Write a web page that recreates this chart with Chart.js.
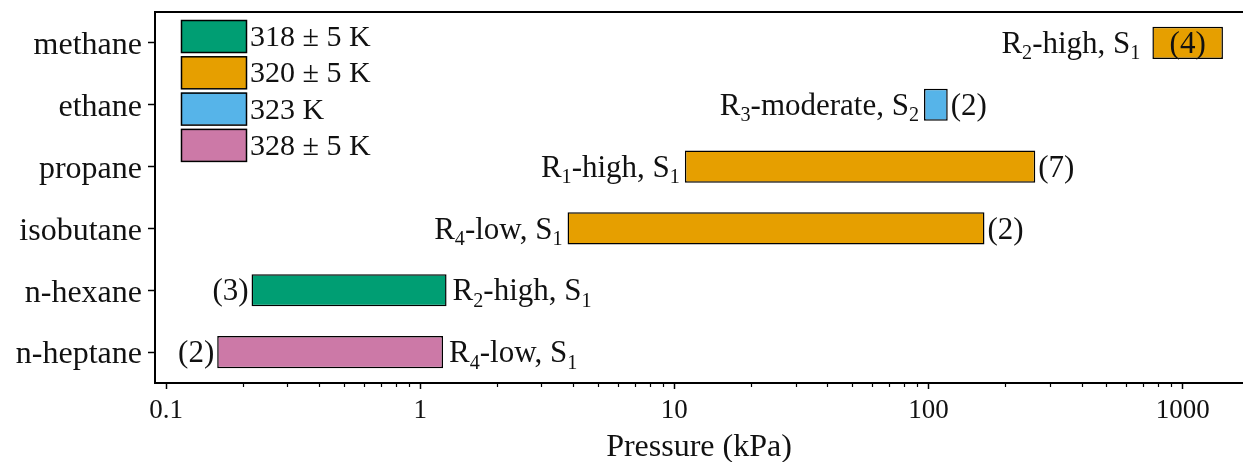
<!DOCTYPE html>
<html>
<head>
<meta charset="utf-8">
<script src="https://cdn.jsdelivr.net/npm/chart.js@4.4.1/dist/chart.umd.min.js"></script>
<style>
  html, body { margin: 0; padding: 0; background: #fff; }
  #chart { display: block; }
</style>
</head>
<body>
<canvas id="chart" width="1243" height="462"></canvas>
<script>
// data
const species = ['methane', 'ethane', 'propane', 'isobutane', 'n-hexane', 'n-heptane'];
const pLow  = [760, 96, 11, 3.8, 0.217, 0.159];     // kPa
const pHigh = [1440, 119, 263, 166, 1.27, 1.23];    // kPa
const tempIdx = [1, 2, 1, 1, 0, 3];
const temps = ['318 ± 5 K', '320 ± 5 K', '323 K', '328 ± 5 K'];
const tempColors = ['#009E73', '#E69F00', '#56B4E9', '#CC79A7'];
const regimes = ['R_2-high, S_1', 'R_3-moderate, S_2', 'R_1-high, S_1', 'R_4-low, S_1', 'R_2-high, S_1', 'R_4-low, S_1'];
const refCounts = ['(4)', '(2)', '(7)', '(2)', '(3)', '(2)'];
const decadeTicks = [0.1, 1, 10, 100, 1000];

const SERIF = '"Liberation Serif", "Times New Roman", serif';

// text with _x subscripts
function parts(str) {
  const out = [];
  const re = /_(\w)/g;
  let last = 0, m;
  while ((m = re.exec(str))) {
    if (m.index > last) out.push({ t: str.slice(last, m.index), sub: false });
    out.push({ t: m[1], sub: true });
    last = re.lastIndex;
  }
  if (last < str.length) out.push({ t: str.slice(last), sub: false });
  return out;
}
function richWidth(ctx, str, size) {
  let w = 0;
  parts(str).forEach(p => {
    ctx.font = (p.sub ? size * 0.65 : size) + 'px ' + SERIF;
    w += ctx.measureText(p.t).width;
  });
  return w;
}
function richText(ctx, str, x, y, size) {
  let cx = x;
  ctx.textAlign = 'left';
  ctx.textBaseline = 'alphabetic';
  parts(str).forEach(p => {
    const s = p.sub ? size * 0.65 : size;
    ctx.font = s + 'px ' + SERIF;
    ctx.fillText(p.t, cx, p.sub ? y + size * 0.2 : y);
    cx += ctx.measureText(p.t).width;
  });
}

const annotations = {
  id: 'annotations',
  afterDatasetsDraw(chart) {
    const ctx = chart.ctx;
    const x = chart.scales.x, y = chart.scales.y;
    const size = 31;
    ctx.save();
    ctx.fillStyle = '#111';
    species.forEach((s, i) => {
      const x0 = x.getPixelForValue(pLow[i]);
      const x1 = x.getPixelForValue(pHigh[i]);
      const yc = y.getPixelForValue(i);
      const base = yc + size * 0.33;
      const rw = richWidth(ctx, regimes[i], size);
      ctx.font = size + 'px ' + SERIF;
      const cw = ctx.measureText(refCounts[i]).width;
      if (i < 4) {
        richText(ctx, regimes[i], x0 - (i === 0 ? 12 : 5) - rw, base, size);
        if (i === 0) {
          richText(ctx, refCounts[i], (x0 + x1) / 2 - cw / 2, base, size);
        } else {
          richText(ctx, refCounts[i], x1 + 3, base, size);
        }
      } else {
        richText(ctx, refCounts[i], x0 - 3 - cw, base, size);
        richText(ctx, regimes[i], x1 + 6, base, size);
      }
    });
    ctx.restore();
  },
  afterDraw(chart) {
    const ctx = chart.ctx;
    const a = chart.chartArea;
    const x = chart.scales.x;
    ctx.save();
    // top frame line
    ctx.strokeStyle = '#000';
    ctx.lineWidth = 2;
    ctx.beginPath();
    ctx.moveTo(a.left - 1, a.top);
    ctx.lineTo(a.right, a.top);
    ctx.stroke();
    // minor log ticks
    ctx.lineWidth = 1.2;
    ctx.beginPath();
    decadeTicks.forEach(d => {
      for (let k = 2; k <= 9; k++) {
        const v = d * k;
        if (v > x.max) continue;
        const px = Math.round(x.getPixelForValue(v)) + 0.5;
        ctx.moveTo(px, a.bottom);
        ctx.lineTo(px, a.bottom + 4);
      }
    });
    ctx.stroke();
    // legend
    const lx = 181, ly = 20, bw = 65, bh = 32, step = 36.3;
    temps.forEach((t, i) => {
      const top = ly + i * step;
      ctx.fillStyle = tempColors[i];
      ctx.fillRect(lx, top, bw, bh);
      ctx.strokeStyle = '#000';
      ctx.lineWidth = 1.5;
      ctx.strokeRect(lx + 0.5, top + 0.5, bw, bh);
      ctx.fillStyle = '#111';
      ctx.font = '30px ' + SERIF;
      ctx.textAlign = 'left';
      ctx.textBaseline = 'alphabetic';
      ctx.fillText(t, lx + bw + 4, top + bh / 2 + 10);
    });
    ctx.restore();
  }
};

new Chart(document.getElementById('chart'), {
  type: 'bar',
  data: {
    labels: species,
    datasets: [{
      data: species.map((s, i) => [pLow[i], pHigh[i]]),
      backgroundColor: tempIdx.map(k => tempColors[k]),
      borderColor: '#000',
      borderWidth: 1.5,
      borderSkipped: false,
      barPercentage: 0.52,
      categoryPercentage: 1
    }]
  },
  plugins: [annotations],
  options: {
    indexAxis: 'y',
    responsive: false,
    animation: false,
    devicePixelRatio: 1,
    layout: { padding: { top: 12, right: 0, left: 0, bottom: 0 } },
    plugins: { legend: { display: false }, tooltip: { enabled: false } },
    scales: {
      x: {
        type: 'logarithmic',
        min: 0.0905,
        max: 1727,
        afterBuildTicks(scale) {
          scale.ticks = decadeTicks.map(v => ({ value: v, major: true }));
        },
        afterFit(scale) { scale.height = 79; scale.paddingLeft = 0; scale.paddingRight = 0; },
        border: { display: true, color: '#000', width: 2 },
        grid: { drawOnChartArea: false, drawTicks: true, tickLength: 6, color: '#000', tickWidth: 1.5 },
        ticks: {
          color: '#111',
          padding: 6,
          maxRotation: 0,
          autoSkip: false,
          font: { family: SERIF, size: 27 },
          callback: v => String(v)
        },
        title: {
          display: true,
          text: 'Pressure (kPa)',
          color: '#111',
          font: { family: SERIF, size: 32, lineHeight: 1 },
          padding: { top: 0, bottom: -2 }
        }
      },
      y: {
        afterFit(scale) { scale.width = 155; scale.paddingTop = 0; scale.paddingBottom = 0; },
        border: { display: true, color: '#000', width: 2 },
        grid: { drawOnChartArea: false, drawTicks: true, tickLength: 7, color: '#000', tickWidth: 1.5, offset: false },
        ticks: {
          color: '#111',
          padding: 6,
          labelOffset: 3,
          font: { family: SERIF, size: 32 }
        }
      }
    }
  }
});
</script>
</body>
</html>
